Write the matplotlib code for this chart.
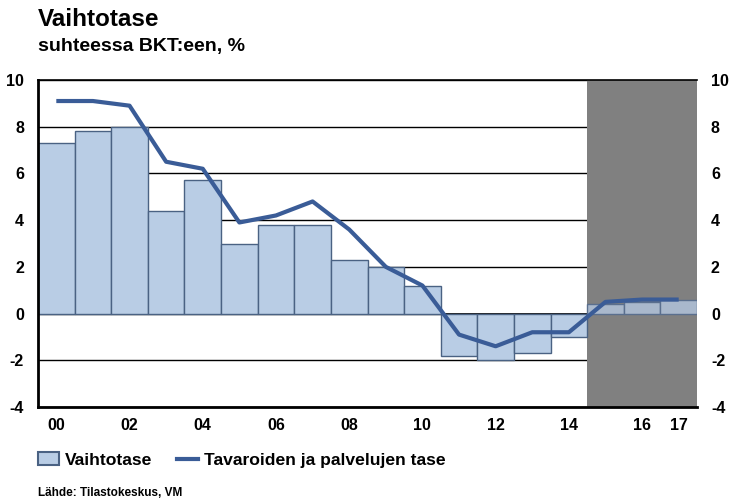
import matplotlib
matplotlib.use("Agg")
import matplotlib.pyplot as plt
from matplotlib.patches import Patch
from matplotlib.lines import Line2D
import numpy as np

years = list(range(2000, 2018))
current_account = [7.3, 7.8, 8.0, 4.4, 5.7, 3.0, 3.8, 3.8, 2.3, 2.0, 1.2,
                   -1.8, -2.0, -1.7, -1.0, 0.4, 0.5, 0.6]
goods_services = [9.1, 9.1, 8.9, 6.5, 6.2, 3.9, 4.2, 4.8, 3.6, 2.0, 1.2,
                  -0.9, -1.4, -0.8, -0.8, 0.5, 0.6, 0.6]
tick_years = [2000, 2002, 2004, 2006, 2008, 2010, 2012, 2014, 2016, 2017]
tick_labels = ["00", "02", "04", "06", "08", "10", "12", "14", "16", "17"]
forecast_start = 2015

plt.rcParams['font.family'] = ['Liberation Sans', 'DejaVu Sans']
plt.rcParams['font.weight'] = 'bold'

fig = plt.figure(figsize=(7.29, 5.0), dpi=100)
ax = fig.add_axes([38/729, 1-407/500, (697-38)/729, (407-80)/500])

x = np.array(years)
ax.set_xlim(x[0]-0.5, x[-1]+0.5)
ax.set_ylim(-4, 10)

ax.axvspan(forecast_start-0.5, x[-1]+0.5, color='#808080', zorder=0.5, lw=0)

for yv in range(-4, 11, 2):
    ax.axhline(yv, color='black', lw=1.0, zorder=0.4)
ax.axhline(0, color='black', lw=1.2, zorder=0.4)

fc = ['#b9cde5' if yr < forecast_start else '#a9b8cc' for yr in years]
ec = ['#4a6283' if yr < forecast_start else '#5a6f8e' for yr in years]
ax.bar(x, current_account, width=1.0, color=fc, edgecolor=ec, lw=1.0, zorder=2)
ax.plot(x, goods_services, color='#3a5c97', lw=3, zorder=3, solid_capstyle='butt')

ax.set_yticks(range(-4, 11, 2))
ax.set_yticklabels([str(v) for v in range(-4, 11, 2)])
ax.set_xticks(tick_years)
ax.set_xticklabels(tick_labels)
ax.tick_params(axis='both', length=0, labelsize=11.5, pad=8)
ax.tick_params(axis='y', labelright=True, pad=10)
for lab in ax.get_xticklabels() + ax.get_yticklabels():
    lab.set_fontweight('bold')

for s in ['left', 'bottom']:
    ax.spines[s].set_linewidth(2)
    ax.spines[s].set_zorder(5)
ax.spines['top'].set_linewidth(1.2)
ax.spines['right'].set_visible(False)

fig.text(38/729, 1-19/500, "Vaihtotase", fontsize=17.5, fontweight='bold', va='center', ha='left')
fig.text(38/729, 1-46/500, "suhteessa BKT:een, %", fontsize=14, fontweight='bold', va='center', ha='left')

handles = [Patch(facecolor='#b9cde5', edgecolor='#4a6283', lw=1.5, label='Vaihtotase'),
           Line2D([0], [0], color='#3a5c97', lw=3, label='Tavaroiden ja palvelujen tase')]
fig.legend(handles=handles, loc='center left', bbox_to_anchor=(22/729, 1-460/500),
           ncol=2, frameon=False, prop={'size': 12.6, 'weight': 'bold'},
           handlelength=1.2, handletextpad=0.35, columnspacing=1.4)

fig.text(38/729, 1-493/500, "Lähde: Tilastokeskus, VM", fontsize=8.5, fontweight='bold', va='center', ha='left')

fig.savefig("out.png", dpi=100)
